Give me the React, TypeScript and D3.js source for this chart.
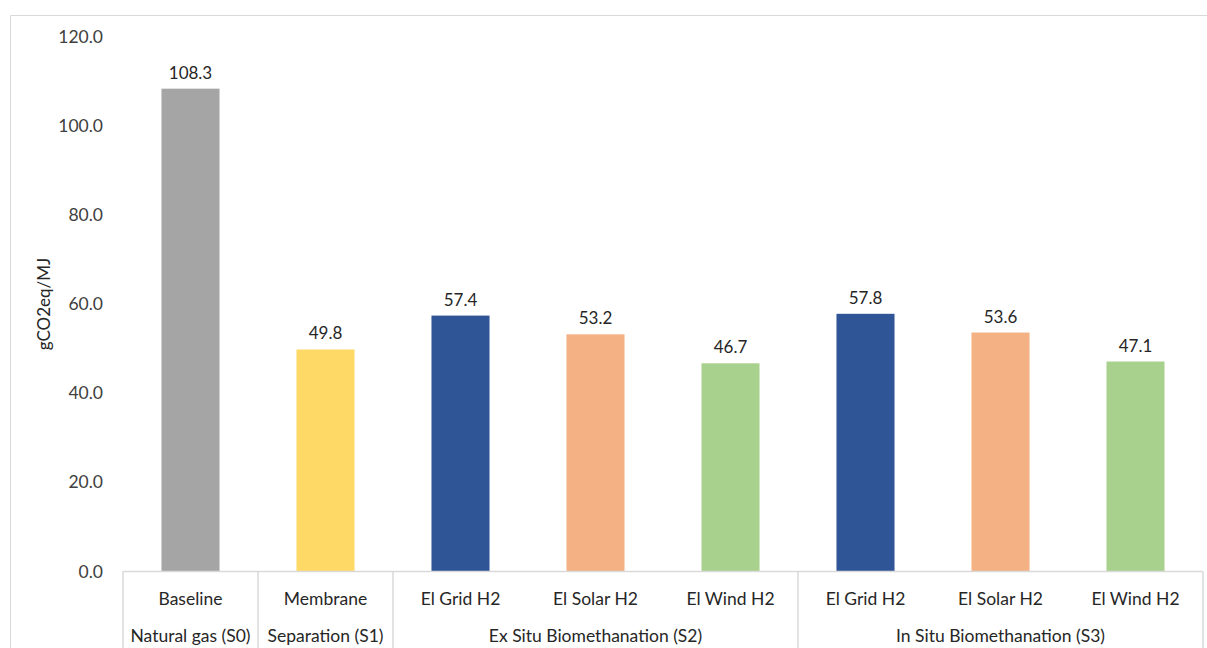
import React from "react";
import * as d3 from "d3";

const categories = ["Baseline", "Membrane", "El Grid H2", "El Solar H2", "El Wind H2", "El Grid H2", "El Solar H2", "El Wind H2"];
const groups = [
  { name: "Natural gas (S0)", start: 0, end: 1 },
  { name: "Separation (S1)", start: 1, end: 2 },
  { name: "Ex Situ Biomethanation (S2)", start: 2, end: 5 },
  { name: "In Situ Biomethanation (S3)", start: 5, end: 8 },
];
const values = [108.3, 49.8, 57.4, 53.2, 46.7, 57.8, 53.6, 47.1];
const colors = ["#A5A5A5", "#FFD966", "#2F5597", "#F4B183", "#A9D18E", "#2F5597", "#F4B183", "#A9D18E"];
const yTicks = [0, 20, 40, 60, 80, 100, 120];
const yTitle = "gCO2eq/MJ";

const W = 1207;
const H = 648;
const left = 123;
const right = 1203;
const y0 = 571.5;
const yTop = 36.5;
const FONT = "Lato, 'Open Sans', sans-serif";

export default function App() {
  const idx = categories.map((_, i) => String(i));
  const x = d3.scaleBand<string>().domain(idx).range([left, right]).paddingInner(0).paddingOuter(0);
  const y = d3.scaleLinear().domain([0, 120]).range([y0, yTop]);
  const bw = x.bandwidth() * 0.43;

  const groupX = (i: number) => left + i * x.bandwidth();

  return (
    <svg width={W} height={H} style={{ position: "absolute", left: 0, top: 0, background: "#fff" }} fontFamily={FONT}>
      <rect x={0} y={0} width={W} height={H} fill="#fff" />
      {/* chart border */}
      <line x1={10.5} y1={15.5} x2={W} y2={15.5} stroke="#D9D9D9" strokeWidth={1} />
      <line x1={10.5} y1={15.5} x2={10.5} y2={H} stroke="#D9D9D9" strokeWidth={1} />

      {/* y tick labels */}
      {yTicks.map((t) => (
        <text key={t} x={103} y={y(t)} dy="0.35em" textAnchor="end" fontSize={17.5} fill="#404040">
          {t.toFixed(1)}
        </text>
      ))}

      {/* y title */}
      <text transform={`translate(44.5,${(y0 + yTop) / 2}) rotate(-90)`} textAnchor="middle" dy="0.35em" fontSize={17} fill="#262626">
        {yTitle}
      </text>

      {/* bars */}
      {values.map((v, i) => {
        const cx = (x(String(i)) as number) + x.bandwidth() / 2;
        return (
          <g key={i}>
            <rect x={cx - bw / 2} y={y(v)} width={bw} height={y0 - y(v)} fill={colors[i]} />
            <text x={cx} y={y(v) - 10} textAnchor="middle" fontSize={17} fill="#262626">
              {v.toFixed(1)}
            </text>
          </g>
        );
      })}

      {/* category axis */}
      <line x1={left} y1={y0} x2={right} y2={y0} stroke="#D9D9D9" strokeWidth={1.5} />
      {[0, 1, 2, 5, 8].map((g) => (
        <line key={g} x1={groupX(g)} y1={y0} x2={groupX(g)} y2={H} stroke="#D9D9D9" strokeWidth={1.5} />
      ))}
      {categories.map((c, i) => (
        <text key={i} x={(x(String(i)) as number) + x.bandwidth() / 2} y={599} dy="0.35em" textAnchor="middle" fontSize={17.5} fill="#262626">
          {c}
        </text>
      ))}
      {groups.map((g) => (
        <text key={g.name} x={(groupX(g.start) + groupX(g.end)) / 2} y={636} dy="0.35em" textAnchor="middle" fontSize={17.5} fill="#262626">
          {g.name}
        </text>
      ))}
    </svg>
  );
}
